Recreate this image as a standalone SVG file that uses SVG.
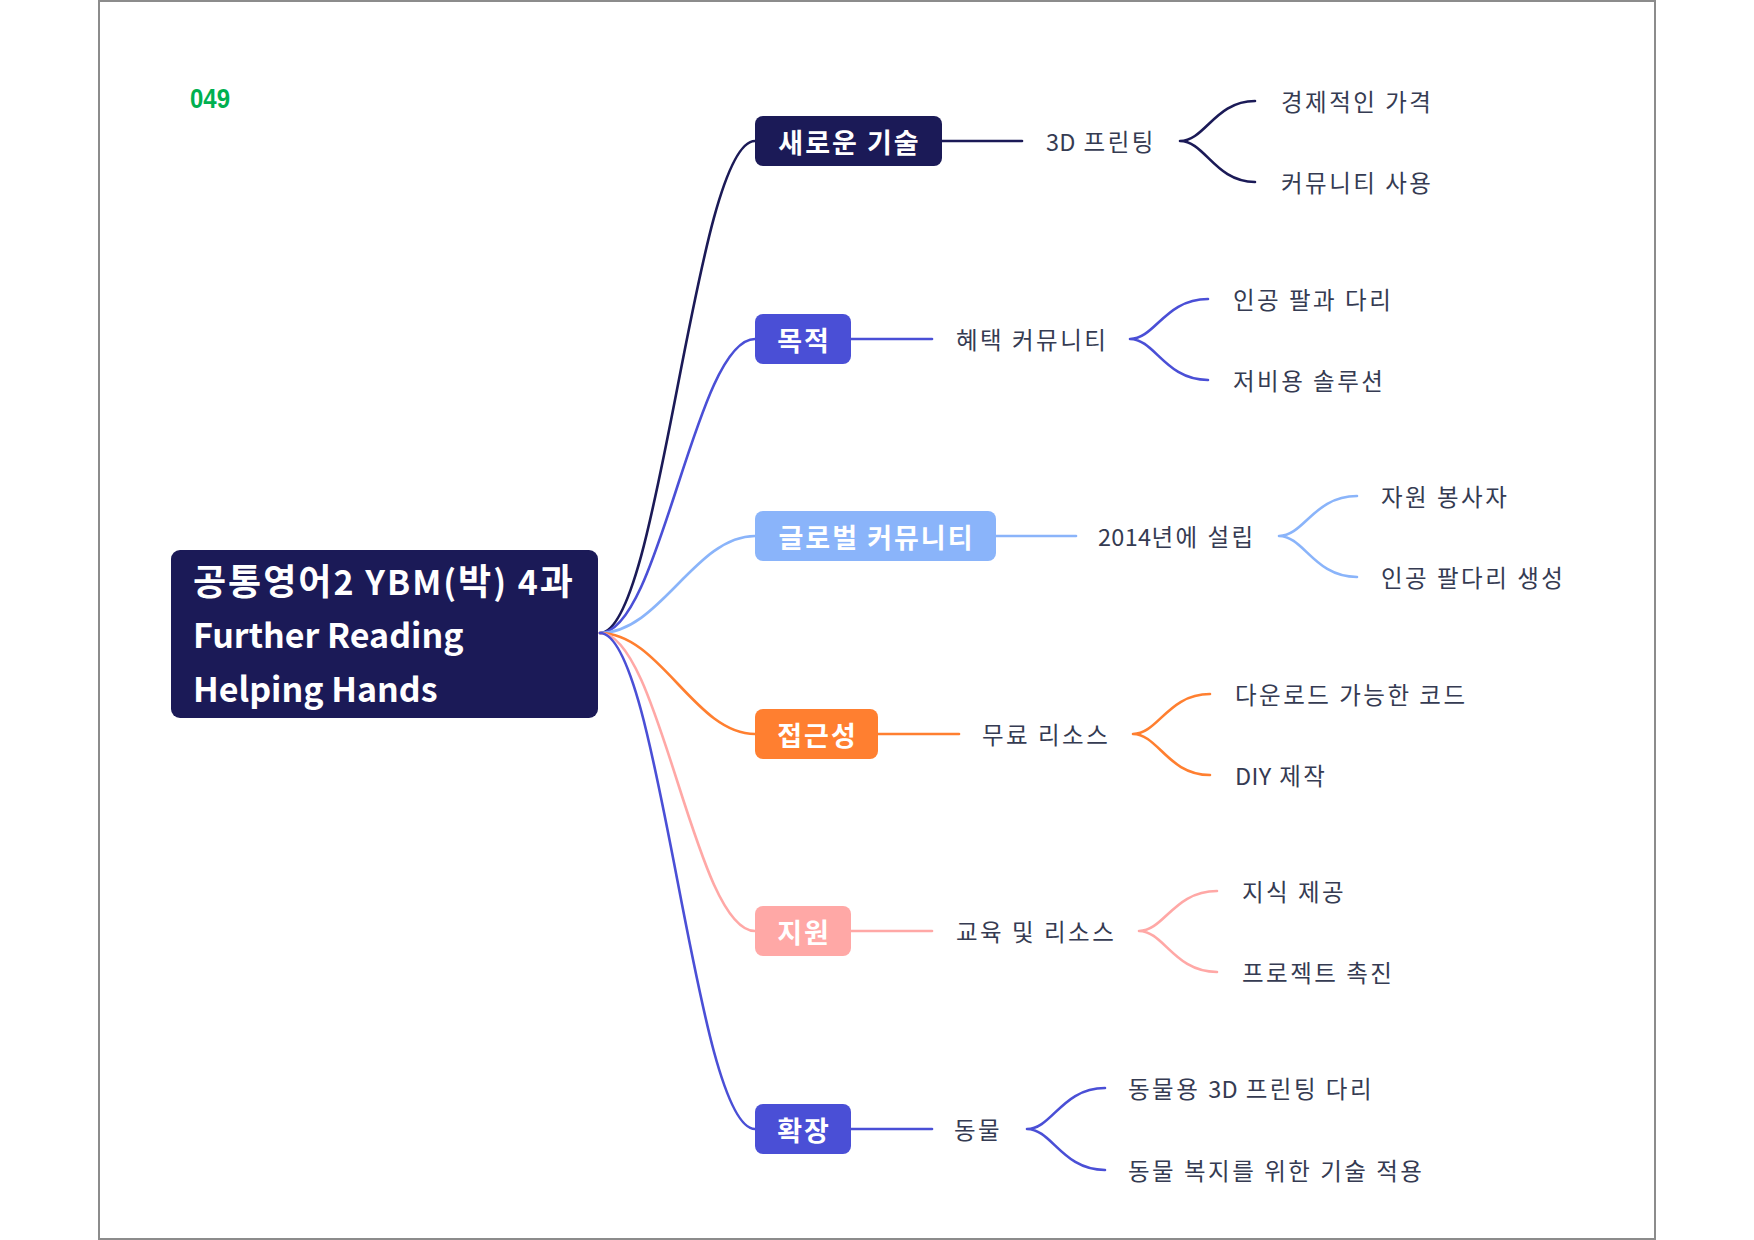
<svg xmlns="http://www.w3.org/2000/svg" width="1754" height="1240" viewBox="0 0 1754 1240">
<style>
.cn{fill:none;stroke-width:2.6;stroke-linecap:round}
.c1{stroke:#1b1a57}.c2{stroke:#4a4fd6}.c3{stroke:#8ab4fa}.c4{stroke:#ff7f30}.c5{stroke:#ffa8a6}
.bt{font-family:"Noto Sans CJK KR","Noto Sans",sans-serif;font-weight:700;font-size:27px;letter-spacing:2px;fill:#fff;text-anchor:middle;dominant-baseline:central}
.t2{font-family:"Noto Sans CJK KR","Noto Sans",sans-serif;font-size:23.5px;letter-spacing:2.5px;fill:#353b52;dominant-baseline:central}
.la{letter-spacing:0.3px}
.ct{font-family:"Noto Sans CJK KR","Noto Sans",sans-serif;font-weight:700;font-size:34px;fill:#fff}
.l1{letter-spacing:2px}
.hk{font-size:36px}
</style>
<rect x="0" y="0" width="1754" height="1240" fill="#fff"/>
<rect x="99" y="1" width="1556" height="1238" fill="#fff" stroke="#8c8c8c" stroke-width="2"/>
<text x="190" y="108" font-family="Liberation Sans, Arial, sans-serif" font-weight="700" font-size="27" fill="#00b050" textLength="40" lengthAdjust="spacingAndGlyphs">049</text>
<g id="connectors">
<path class="cn c1" d="M600 633 C660 633 695 141 755 141"/>
<path class="cn c2" d="M600 633 C660 633 695 339 755 339"/>
<path class="cn c3" d="M600 633 C660 633 695 536 755 536"/>
<path class="cn c4" d="M600 633 C660 633 695 734 755 734"/>
<path class="cn c5" d="M600 633 C660 633 695 931 755 931"/>
<path class="cn c2" d="M600 633 C660 633 695 1129 755 1129"/>
<path class="cn c1" d="M942 141 H1022"/>
<path class="cn c2" d="M851 339 H932"/>
<path class="cn c3" d="M996 536 H1076"/>
<path class="cn c4" d="M878 734 H959"/>
<path class="cn c5" d="M851 931 H932"/>
<path class="cn c2" d="M851 1129 H932"/>
<path class="cn c1" d="M1180 141 C1205 141 1215 101 1255 101 M1180 141 C1205 141 1215 182 1255 182"/>
<path class="cn c2" d="M1130 339 C1155 339 1165 299 1208 299 M1130 339 C1155 339 1165 380 1208 380"/>
<path class="cn c3" d="M1279 536 C1304 536 1314 496 1357 496 M1279 536 C1304 536 1314 577 1357 577"/>
<path class="cn c4" d="M1133 734 C1158 734 1168 694 1210 694 M1133 734 C1158 734 1168 775 1210 775"/>
<path class="cn c5" d="M1139 931 C1164 931 1174 891 1217 891 M1139 931 C1164 931 1174 972 1217 972"/>
<path class="cn c2" d="M1027 1129 C1052 1129 1062 1088 1105 1088 M1027 1129 C1052 1129 1062 1170 1105 1170"/>
</g>
<g id="center">
<rect x="171" y="550" width="427" height="168" rx="9" fill="#1b1a57"/>
<text class="ct l1" x="193" y="595"><tspan class="hk">공통영어</tspan>2 YBM(<tspan class="hk">박</tspan>) 4<tspan class="hk">과</tspan></text>
<text class="ct" x="193" y="648">Further Reading</text>
<text class="ct" x="193" y="702">Helping Hands</text>
</g>
<g id="n1"><rect x="755" y="116" width="187" height="50" rx="8" fill="#1b1a57"/><text class="bt" x="849.5" y="141">새로운 기술</text></g>
<g id="n2"><rect x="755" y="314" width="96" height="50" rx="8" fill="#4a4fd6"/><text class="bt" x="804" y="339">목적</text></g>
<g id="n3"><rect x="755" y="511" width="241" height="50" rx="8" fill="#8ab4fa"/><text class="bt" x="876.5" y="536">글로벌 커뮤니티</text></g>
<g id="n4"><rect x="755" y="709" width="123" height="50" rx="8" fill="#ff7f30"/><text class="bt" x="817.5" y="734">접근성</text></g>
<g id="n5"><rect x="755" y="906" width="96" height="50" rx="8" fill="#ffa8a6"/><text class="bt" x="804" y="931">지원</text></g>
<g id="n6"><rect x="755" y="1104" width="96" height="50" rx="8" fill="#4a4fd6"/><text class="bt" x="804" y="1129">확장</text></g>
<g id="s1"><text class="t2" x="1046" y="141"><tspan class="la">3D</tspan> 프린팅</text></g>
<g id="s2"><text class="t2" x="956" y="339">혜택 커뮤니티</text></g>
<g id="s3"><text class="t2" x="1098" y="536"><tspan class="la">2014</tspan>년에 설립</text></g>
<g id="s4"><text class="t2" x="982" y="734">무료 리소스</text></g>
<g id="s5"><text class="t2" x="956" y="931">교육 및 리소스</text></g>
<g id="s6"><text class="t2" x="954" y="1129">동물</text></g>
<g id="l1a"><text class="t2" x="1281" y="101">경제적인 가격</text></g>
<g id="l1b"><text class="t2" x="1281" y="182">커뮤니티 사용</text></g>
<g id="l2a"><text class="t2" x="1233" y="299">인공 팔과 다리</text></g>
<g id="l2b"><text class="t2" x="1233" y="380">저비용 솔루션</text></g>
<g id="l3a"><text class="t2" x="1381" y="496">자원 봉사자</text></g>
<g id="l3b"><text class="t2" x="1381" y="577">인공 팔다리 생성</text></g>
<g id="l4a"><text class="t2" x="1235" y="694">다운로드 가능한 코드</text></g>
<g id="l4b"><text class="t2" x="1235" y="775"><tspan class="la">DIY</tspan> 제작</text></g>
<g id="l5a"><text class="t2" x="1242" y="891">지식 제공</text></g>
<g id="l5b"><text class="t2" x="1242" y="972">프로젝트 촉진</text></g>
<g id="l6a"><text class="t2" x="1128" y="1088">동물용 <tspan class="la">3D</tspan> 프린팅 다리</text></g>
<g id="l6b"><text class="t2" x="1128" y="1170">동물 복지를 위한 기술 적용</text></g>
</svg>
